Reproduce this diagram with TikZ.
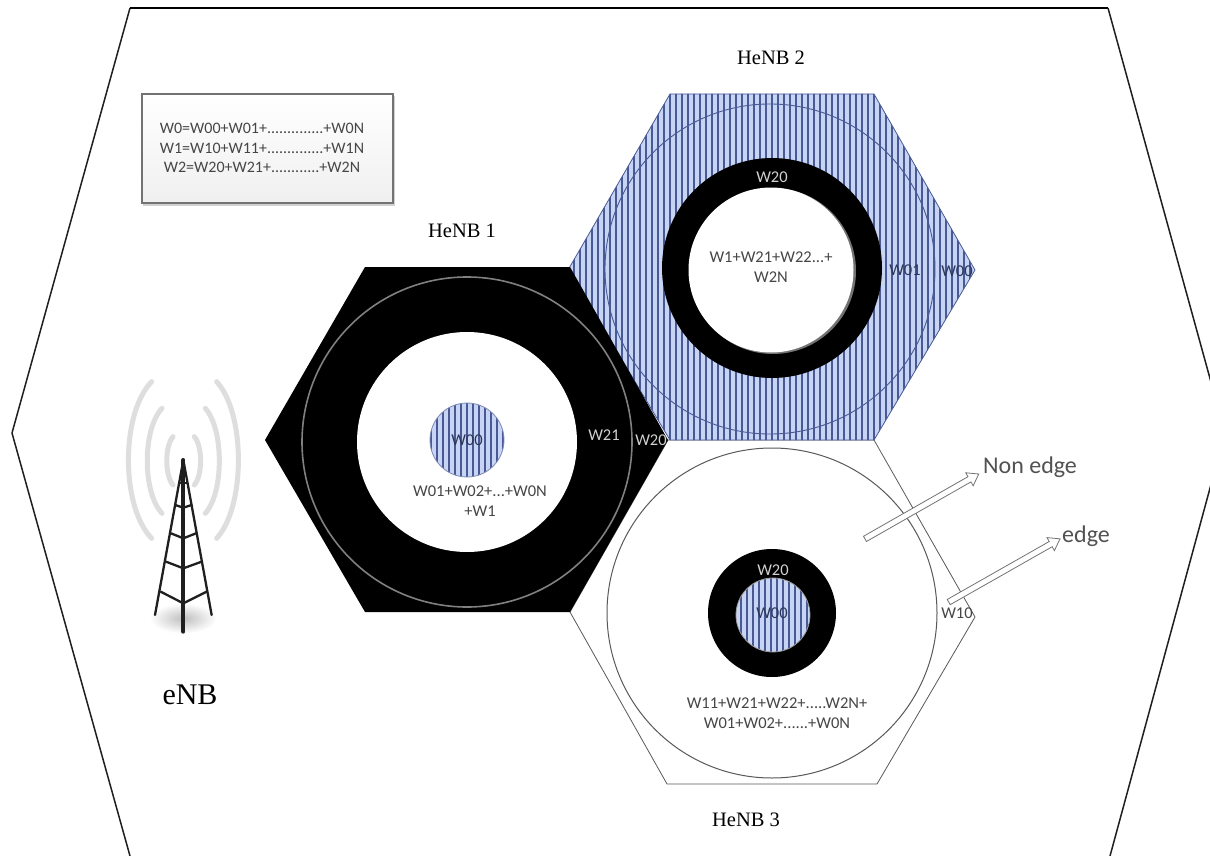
\documentclass[tikz,border=0pt]{standalone}
\usepackage{fontspec}
\setmainfont{Liberation Serif}
\newfontfamily\calfont{Carlito}
\usetikzlibrary{shapes.arrows,shadows}
\definecolor{hatchbg}{RGB}{200,212,243}
\definecolor{hatchline}{RGB}{72,90,150}
\definecolor{txtgray}{RGB}{70,70,70}
\definecolor{wavegray}{RGB}{222,222,222}
\newcommand{\vhatch}[3]{%
  \foreach \hx in {#1,#2,...,#3} {\draw[hatchline,line width=1.6pt] (\hx,60) -- (\hx,800);}}
\tikzset{
  serlabel/.style={font=\rmfamily\fontsize{20.5}{23}\selectfont,text=black,inner sep=0pt},
  wlabel/.style={font=\calfont\fontsize{16.5}{20}\selectfont,text=txtgray,inner sep=0pt,align=center},
  wlight/.style={wlabel,text=black!18},
  wdark/.style={wlabel,text=hatchline!60!black},
  sumtext/.style={font=\calfont\fontsize{16}{19.5}\selectfont,text=txtgray,inner sep=0pt,align=center},
  edgetext/.style={font=\calfont\fontsize{24}{26}\selectfont,text=black!68,inner sep=0pt},
  hexline/.style={draw=black!65,line width=0.8pt},
  openarrow/.style={draw=black!55,fill=white,line width=0.8pt,single arrow,inner sep=0pt,inner ysep=2.6pt,
    minimum width=14pt,single arrow head extend=4.5pt,single arrow tip angle=70,minimum height=#1},
  tower/.style={line width=2.3pt,black!88,line cap=round,line join=round},
  wave/.style={wavegray,line width=5pt,line cap=round},
}
\begin{document}
\begin{tikzpicture}[x=1pt,y=-1pt]
\useasboundingbox (0,0) rectangle (1210,856);
\fill[white] (0,0) rectangle (1210,856);
\begin{scope}
\clip (0,0) rectangle (1210,856);
% outer cell
\draw[black!88,line width=1.5pt,line join=round] (130,856) -- (12,433) -- (130,8);
\draw[black,line width=2.4pt] (130,8) -- (1108,8);
\draw[black!88,line width=1.5pt,line join=round] (1108,8) -- (1225,433) -- (1110,856);
\end{scope}
% summary box
\fill[black!18] (143,96) rectangle (395,206);
\shade[top color=white,bottom color=black!6,draw=black!55,line width=1.3pt] (142,94) rectangle (393,203);
\node[sumtext] (sums) at (262,148) {W0=W00+W01+..............+W0N\\W1=W10+W11+..............+W1N\\W2=W20+W21+............+W2N};
% HeNB 3
\draw[hexline,fill=white] (668,440) -- (874,440) -- (975,617) -- (877,784) -- (667,784) -- (570,612) -- cycle;
\draw[black!65,line width=1pt,fill=white] (772,613) circle (165);
\fill[black] (772,613) circle (64);
\begin{scope}
\clip (773,615) circle (37);
\fill[hatchbg] (773,615) circle (37);
\vhatch{735}{741}{815}
\end{scope}
\draw[black!40,line width=0.8pt] (773,615) circle (37);
% HeNB 2
\fill[hatchbg] (670,94) -- (874,94) -- (975,270) -- (874,440) -- (670,440) -- (568,270) -- cycle;
\begin{scope}
\clip (670,94) -- (874,94) -- (975,270) -- (874,440) -- (670,440) -- (568,270) -- cycle;
\vhatch{568}{574}{980}
\end{scope}
\draw[hatchline,line width=0.8pt] (670,94) -- (874,94) -- (975,270) -- (874,440) -- (670,440) -- (568,270) -- cycle;
\draw[hatchline,line width=0.9pt] (770,269) circle (165);
\fill[black] (772,268) circle (110);
\fill[black!55] (773,271) circle (83);
\fill[white] (771,270) circle (82.5);
% HeNB 1
\fill[black] (365,267) -- (570,267) -- (668,440) -- (570,612) -- (365,612) -- (265,440) -- cycle;
\draw[black!50,line width=1.6pt] (467,442) circle (165);
\fill[white] (467,442) circle (110);
\begin{scope}
\clip (467,440) circle (37);
\fill[hatchbg] (467,440) circle (37);
\vhatch{431}{437}{510}
\end{scope}
\draw[hatchline!70,line width=0.8pt] (467,440) circle (37);
% W labels
\node[wlight] (w20a) at (772,177) {W20};
\node[wlabel] (sum2) at (771,267) {W1+W21+W22...+\\W2N};
\node[wdark] (w01) at (905,270) {W01};
\node[wdark] (w00a) at (957,271) {W00};
\node[wdark] (w00b) at (467,440) {W00};
\node[wlight] (w21) at (604,435) {W21};
\node[wlight] (w20b) at (651,440) {W20};
\node[wlabel] (sum1) at (480,501) {W01+W02+...+W0N\\+W1};
\node[wlight] (w20c) at (773,570) {W20};
\node[wdark] (w00c) at (772,613) {W00};
\node[wlabel] (sum3) at (777,713) {W11+W21+W22+.....W2N+\\W01+W02+......+W0N};
% arrows
\node[openarrow=131pt,rotate=29.7] (arrA) at (920,507.5) {};
\node[openarrow=128pt,rotate=29.6] (arrB) at (1002.5,571.5) {};
\node[wlabel] (w10) at (957,613) {W10};
\node[edgetext] (nonedge) at (1030,467) {Non edge};
\node[edgetext] (edge) at (1086,536) {edge};
% labels
\node[serlabel] (h2) at (771,58) {HeNB 2};
\node[serlabel] (h1) at (462,231) {HeNB 1};
\node[serlabel] (h3) at (746,820) {HeNB 3};
\node[serlabel,font=\rmfamily\fontsize{30}{32}\selectfont] (enb) at (190,695) {eNB};
% tower
\begin{scope}[shift={(110,270)},scale=1/3]
\shade[inner color=black!25,outer color=white] (220,1045) ellipse (100 and 45);
\draw[wave] (125,335) .. controls (32,430) and (32,710) .. (125,805);
\draw[wave] (156,415) .. controls (97,478) and (97,667) .. (156,730);
\draw[wave] (189,500) .. controls (164,529) and (164,616) .. (189,645);
\draw[wave] (320,335) .. controls (407,430) and (407,710) .. (320,805);
\draw[wave] (286,415) .. controls (342,478) and (342,667) .. (286,730);
\draw[wave] (253,500) .. controls (278,529) and (278,616) .. (253,645);
\draw[tower] (220,570) -- (135,1035);
\draw[tower] (220,570) -- (305,1035);
\draw[tower,line width=4pt] (220,570) -- (220,1085);
\draw[tower] (208,640) -- (232,640);
\draw[tower] (196,705) -- (220,713) -- (245,705);
\draw[tower] (183,790) -- (220,805) -- (258,790);
\draw[tower] (168,875) -- (220,895) -- (275,875);
\draw[tower] (152,965) -- (220,1000) -- (290,965);
\end{scope}
\end{tikzpicture}
\end{document}
